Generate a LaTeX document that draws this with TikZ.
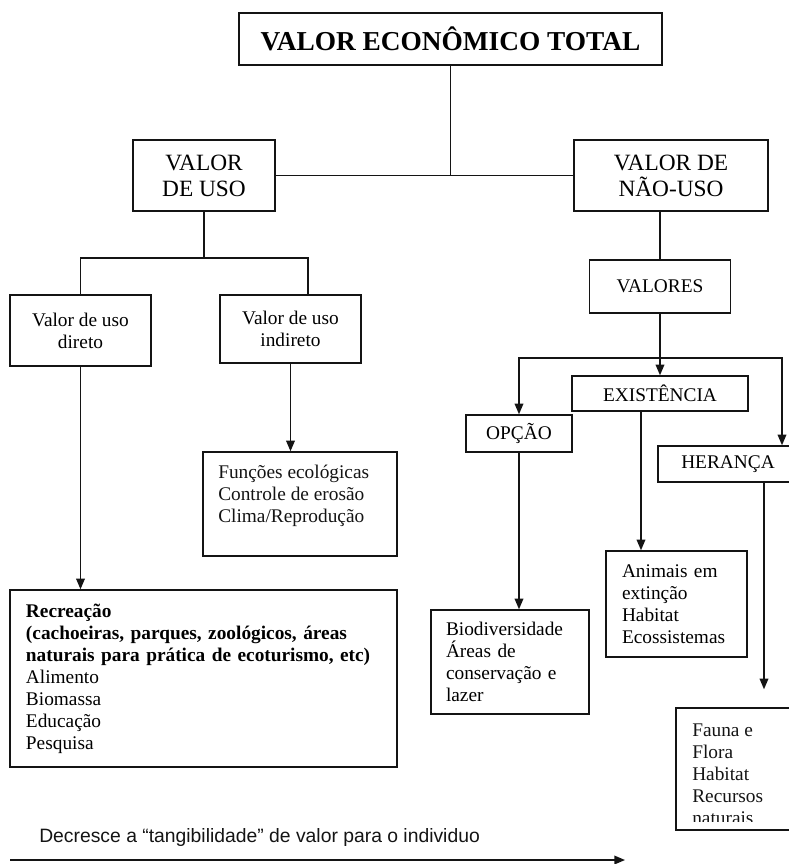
\documentclass[tikz,border=0pt]{standalone}
\usepackage{fontspec}
\setmainfont{Liberation Serif}
\newfontfamily\arialfont{Liberation Sans}
\usetikzlibrary{arrows.meta}

\begin{document}
\begin{tikzpicture}[x=0.75pt,y=-0.75pt,font=\fontsize{14.5}{16.5}\selectfont,
  box/.style={draw=ink,line width=1.1pt,inner sep=0pt,align=center},
  size/.style 2 args={minimum width=#1*0.75,minimum height=#2*0.75},
  txt/.style={inner sep=0pt,align=left,text=ink},
  link/.style={draw=ink,line width=1.1pt},
  arr/.style={link,-{Triangle[width=6.5pt,length=8pt]}}]
\definecolor{ink}{HTML}{141414}
\useasboundingbox (0,0) rectangle (789,864);
\node[box,size={423}{52},font=\fontsize{20.5}{24}\selectfont\bfseries] (total) at (450.5,39) {VALOR ECONÔMICO TOTAL};
\node[box,size={142}{71},font=\fontsize{17.5}{19.5}\selectfont] (uso) at (204,175.5) {VALOR\\DE USO};
\node[box,size={194}{71},font=\fontsize{17.5}{19.5}\selectfont] (naouso) at (671,175.5) {VALOR DE\\NÃO-USO};
\node[box,size={141}{71}] (direto) at (80.5,330.5) {Valor de uso\\direto};
\node[box,size={141}{68}] (indireto) at (290.5,329) {Valor de uso\\indireto};
\node[box,size={194}{104}] (funcoes) at (300,504) {};
\node[txt,anchor=north west] (funcoestxt) at (218,465) {Funções ecológicas\\Controle de erosão\\Clima/Reprodução};
\node[box,align=left,text width=355*0.75,inner xsep=16*0.75,minimum height=177*0.75] (recreacao) at (203.5,678.5) {\textbf{Recreação}\\\textbf{(cachoeiras, parques, zoológicos, áreas}\\\textbf{naturais para prática de ecoturismo, etc)}\\Alimento\\Biomassa\\Educação\\Pesquisa};
\node[box,size={141}{53}] (valores) at (660,286.5) {VALORES};
\node[box,size={176}{35}] (existencia) at (660,393.5) {EXISTÊNCIA};
\node[box,size={106}{37}] (opcao) at (519,433.5) {OPÇÃO};
\node[box,size={140}{36}] (heranca) at (728,464) {HERANÇA};
\node[box,align=left,text width=128*0.75,inner xsep=15*0.75,minimum height=104*0.75] (biodiv) at (510,662) {Biodiversidade\\Áreas de\\conservação e\\lazer};
\node[box,align=left,text width=109*0.75,inner xsep=16*0.75,minimum height=106*0.75] (animais) at (676.5,604) {Animais em\\extinção\\Habitat\\Ecossistemas};
\node[box,size={124}{122}] (fauna) at (738,769) {};
\begin{scope}
\clip (fauna.north west) rectangle ([shift={(0,-9)}]fauna.south east);
\node[txt,anchor=north west] (faunatxt) at (692,724) {Fauna e\\Flora\\Habitat\\Recursos\\naturais};
\end{scope}
\node[txt,anchor=west,font=\arialfont\fontsize{14.5}{16.5}\selectfont] (tangib) at (39,837) {Decresce a “tangibilidade” de valor para o individuo};
\coordinate (usoknee) at (204,258);
\coordinate (valknee) at (valores |- 0,358);
\coordinate (scalestart) at (10,860);
\coordinate (scaleend) at (625,860);
\draw[link] (total) -- (total |- uso);
\draw[link] (uso) -- (naouso);
\draw[link] (uso) -- (usoknee);
\draw[link] (direto) |- (usoknee) -| ([shift={(17.5,0)}]indireto.north);
\draw[arr] (direto) -- (direto |- recreacao.north);
\draw[arr] (indireto) -- (indireto |- funcoes.north);
\draw[link] (naouso.south -| valores) -- (valores);
\draw[arr] (valores) -- (existencia);
\draw[arr] (valknee) -| (opcao);
\draw[arr] (valknee) -| ([shift={(54,0)}]heranca.north);
\draw[arr] ([shift={(-19,0)}]existencia.south) -- ([shift={(-19,0)}]existencia.south |- animais.north);
\draw[arr] (opcao) -- (opcao |- biodiv.north);
\draw[arr,shorten >=13.5pt] ([shift={(36,0)}]heranca.south) -- ([shift={(36,0)}]heranca.south |- fauna.north);
\draw[arr] (scalestart) -- (scaleend);
\end{tikzpicture}
\end{document}
